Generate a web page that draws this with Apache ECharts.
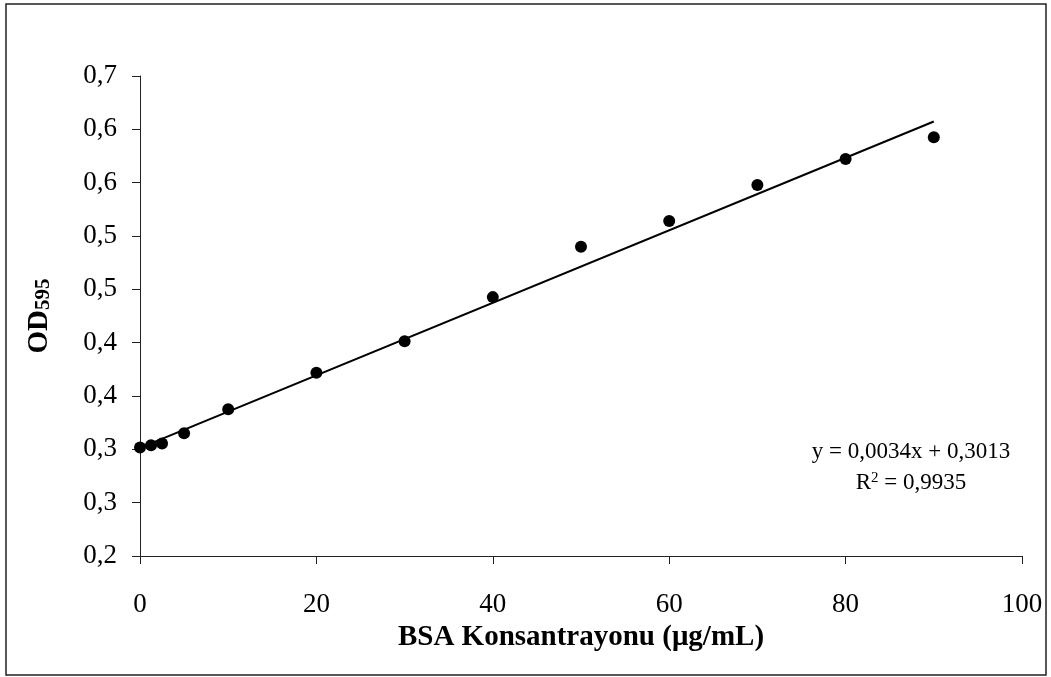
<!DOCTYPE html>
<html>
<head>
<meta charset="utf-8">
<script src="https://cdn.jsdelivr.net/npm/echarts@6/dist/echarts.min.js"></script>
<style>
  html, body { margin: 0; padding: 0; background: #fff; }
  #chart { width: 1051px; height: 677px; }
</style>
</head>
<body>
<div id="chart"></div>
<script>
// BSA standard curve
var concentrations = [0, 1.25, 2.5, 5, 10, 20, 30, 40, 50, 60, 70, 80, 90];
var odValues = [0.3017, 0.3038, 0.3054, 0.3151, 0.3376, 0.3717, 0.4014, 0.4427, 0.4899, 0.5140, 0.5478, 0.5722, 0.5925];
// linear trendline end points
var trendX = [0, 90];
var trendY = [0.3013, 0.6073];
// y tick labels as printed (Excel rounded them to one decimal)
var yTickLabels = ["0,2", "0,3", "0,3", "0,4", "0,4", "0,5", "0,5", "0,6", "0,6", "0,7"];
var xTickLabels = ["0", "20", "40", "60", "80", "100"];

var font = "Liberation Serif";
var chart = echarts.init(document.getElementById("chart"));

chart.setOption({
  animation: false,
  backgroundColor: "#fff",
  textStyle: { fontFamily: font },
  grid: { left: 140, right: 29, top: 76, bottom: 121 },
  xAxis: {
    type: "value",
    min: 0,
    max: 100,
    interval: 20,
    name: "BSA Konsantrayonu (μg/mL)",
    nameLocation: "middle",
    nameGap: 66,
    nameTextStyle: { fontFamily: font, fontSize: 29, fontWeight: "bold", color: "#000" },
    axisLine: { lineStyle: { color: "#222", width: 1 } },
    axisTick: { show: true, inside: false, length: 8, lineStyle: { color: "#222" } },
    axisLabel: {
      margin: 35,
      fontFamily: font,
      fontSize: 27,
      color: "#000",
      formatter: function (v) { return xTickLabels[Math.round(v / 20)]; }
    },
    splitLine: { show: false }
  },
  yAxis: {
    type: "value",
    min: 0.2,
    max: 0.65,
    interval: 0.05,
    name: "{a|OD}{b|595}",
    nameLocation: "middle",
    nameGap: 86,
    nameTextStyle: {
      rich: {
        a: { fontFamily: font, fontSize: 29, fontWeight: "bold", color: "#000" },
        b: { fontFamily: font, fontSize: 21, fontWeight: "bold", color: "#000", padding: [8, 0, 0, 0] }
      }
    },
    axisLine: { show: true, lineStyle: { color: "#222", width: 1 } },
    axisTick: { show: true, inside: false, length: 8, lineStyle: { color: "#222" } },
    axisLabel: {
      margin: 23,
      fontFamily: font,
      fontSize: 27,
      color: "#000",
      formatter: function (v) { return yTickLabels[Math.round((v - 0.2) / 0.05)]; }
    },
    splitLine: { show: false }
  },
  series: [
    {
      name: "Trend",
      type: "line",
      data: trendX.map(function (x, i) { return [x, trendY[i]]; }),
      showSymbol: false,
      symbol: "none",
      lineStyle: { color: "#000", width: 2 },
      silent: true,
      z: 1
    },
    {
      name: "OD595",
      type: "scatter",
      data: concentrations.map(function (x, i) { return [x, odValues[i]]; }),
      symbol: "circle",
      symbolSize: 12,
      itemStyle: { color: "#000", opacity: 1 },
      z: 2
    }
  ],
  graphic: [
    {
      type: "rect",
      shape: { x: 6, y: 4, width: 1040, height: 671 },
      style: { fill: null, stroke: "#222", lineWidth: 1.5 },
      silent: true
    },
    {
      type: "text",
      x: 911,
      y: 452,
      style: {
        text: "y = 0,0034x + 0,3013",
        font: "23px " + font,
        fill: "#000",
        align: "center",
        verticalAlign: "middle"
      }
    },
    {
      type: "text",
      x: 911,
      y: 483,
      style: {
        text: "{a|R}{s|2}{a| = 0,9935}",
        align: "center",
        verticalAlign: "middle",
        rich: {
          a: { fontFamily: font, fontSize: 23, color: "#000" },
          s: { fontFamily: font, fontSize: 15, color: "#000", padding: [0, 0, 10, 0] }
        }
      }
    }
  ]
});
</script>
</body>
</html>
